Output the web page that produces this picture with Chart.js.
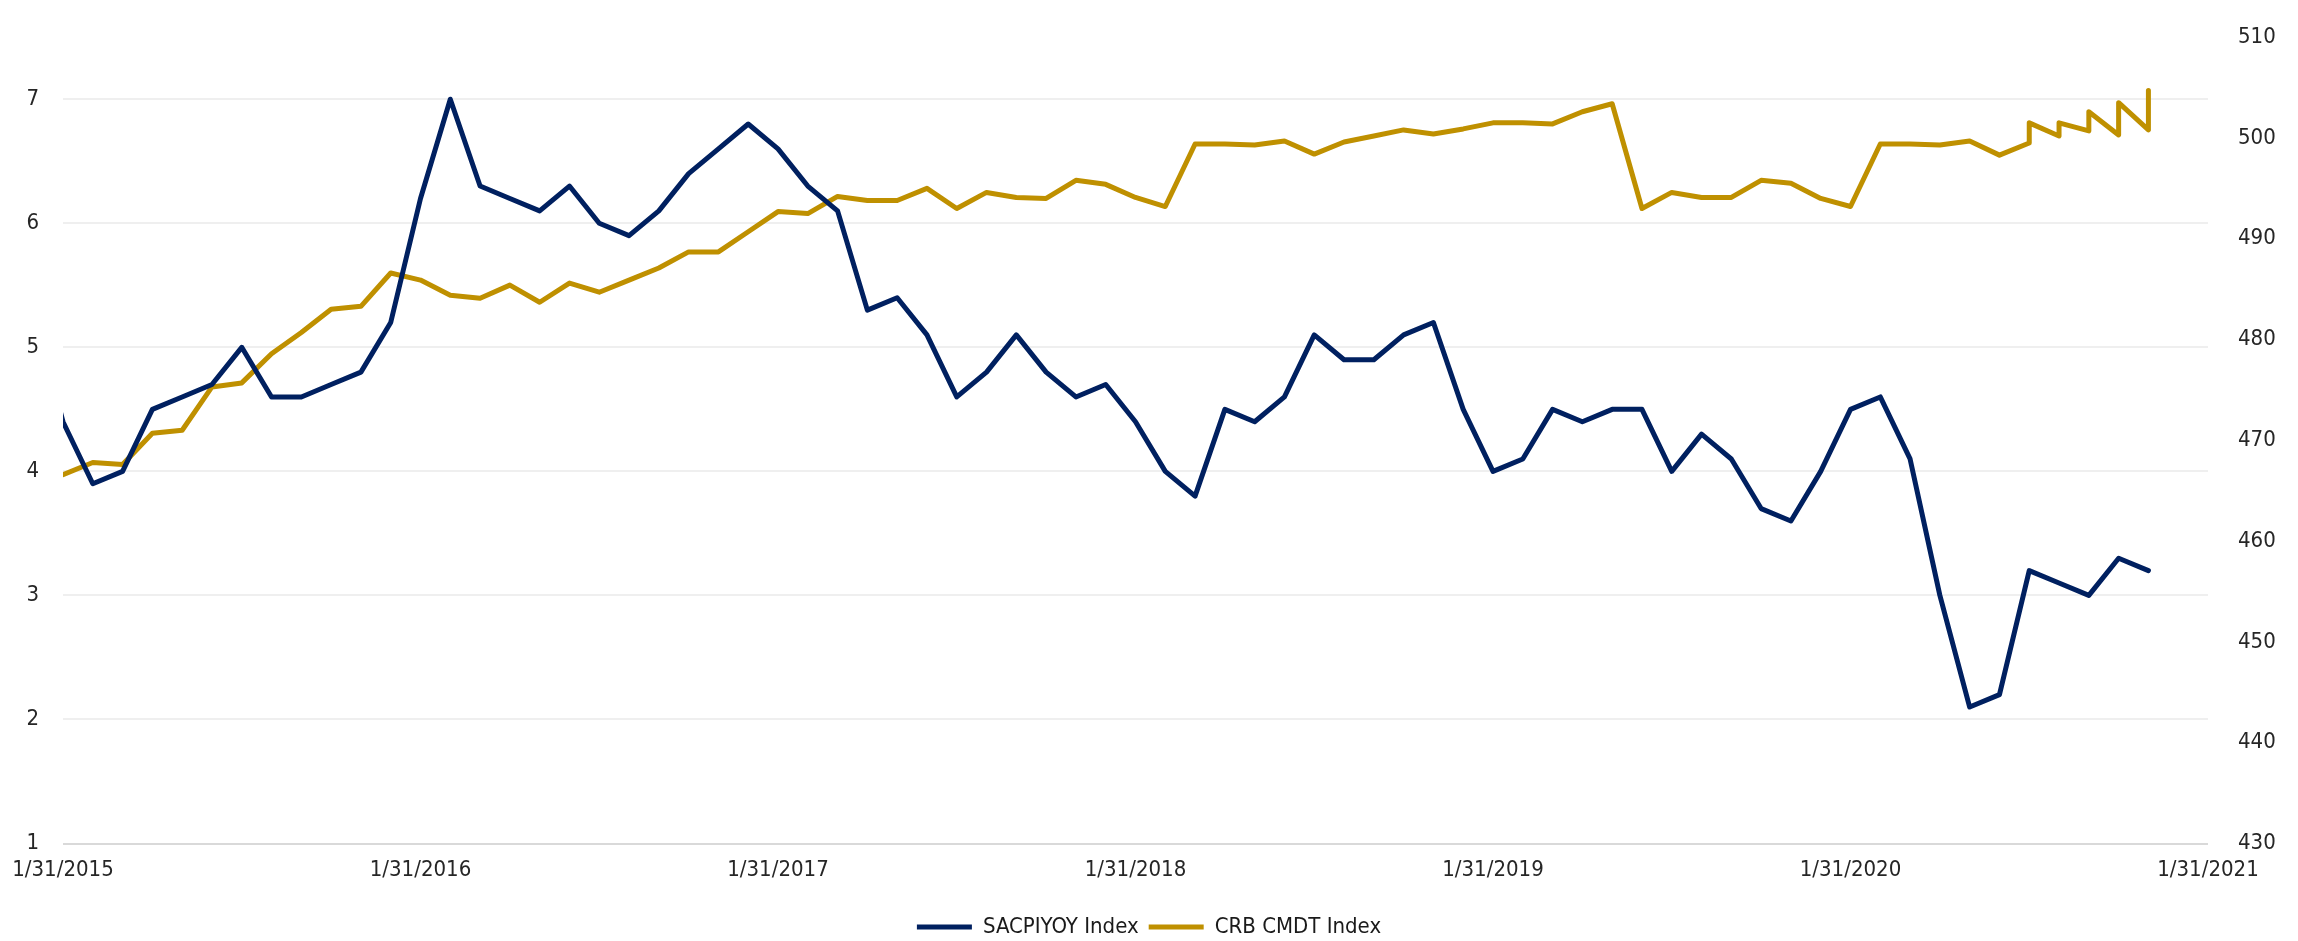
<!DOCTYPE html>
<html>
<head>
<meta charset="utf-8">
<title>SACPIYOY vs CRB CMDT</title>
<script src="https://cdn.jsdelivr.net/npm/chart.js@4.4.1/dist/chart.umd.min.js"></script>
<style>
    html, body { margin: 0; padding: 0; background: #ffffff; }
    #wrap { width: 2298px; height: 941px; position: relative; }
</style>
</head>
<body>
<div id="wrap"><canvas id="cpiChart"></canvas></div>
<script>
// month-end labels, 12/31/2014 .. 1/31/2021
function monthEndLabels(startYear, startMonth, count) {
    const labels = [];
    for (let i = 0; i < count; i++) {
        const m = (startMonth - 1 + i) % 12;
        const y = startYear + Math.floor((startMonth - 1 + i) / 12);
        const lastDay = new Date(y, m + 1, 0).getDate();
        labels.push((m + 1) + '/' + lastDay + '/' + y);
    }
    return labels;
}
const months = monthEndLabels(2014, 12, 74);

// SACPIYOY Index, 12/2014 .. 11/2020 (left axis)
const sacpiyoy = [
    5.3,
    4.4, 3.9, 4.0, 4.5, 4.6, 4.7, 5.0, 4.6, 4.6, 4.7, 4.8, 5.2,
    6.2, 7.0, 6.3, 6.2, 6.1, 6.3, 6.0, 5.9, 6.1, 6.4, 6.6, 6.8,
    6.6, 6.3, 6.1, 5.3, 5.4, 5.1, 4.6, 4.8, 5.1, 4.8, 4.6, 4.7,
    4.4, 4.0, 3.8, 4.5, 4.4, 4.6, 5.1, 4.9, 4.9, 5.1, 5.2, 4.5,
    4.0, 4.1, 4.5, 4.4, 4.5, 4.5, 4.0, 4.3, 4.1, 3.7, 3.6, 4.0,
    4.5, 4.6, 4.1, 3.0, 2.1, 2.2, 3.2, 3.1, 3.0, 3.3, 3.2
];

// CRB CMDT Index, monthly 12/2014 .. 7/2020 (right axis)
const crbMonthly = [
    465.3,
    466.6, 467.8, 467.6, 470.7, 471.0, 475.3, 475.7, 478.6, 480.7, 483.0, 483.3, 486.6,
    485.9, 484.4, 484.1, 485.4, 483.7, 485.6, 484.7, 485.9, 487.1, 488.7, 488.7, 490.7,
    492.7, 492.5, 494.2, 493.8, 493.8, 495.0, 493.0, 494.6, 494.1, 494.0, 495.8, 495.4,
    494.1, 493.2, 499.4, 499.4, 499.3, 499.7, 498.4, 499.6, 500.2, 500.8, 500.4, 500.9,
    501.5, 501.5, 501.4, 502.6, 503.4, 493.0, 494.6, 494.1, 494.1, 495.8, 495.5, 494.0,
    493.2, 499.4, 499.4, 499.3, 499.7, 498.3, 499.5
];
// extra observations at the end, two per month
const crbTailDates = ['7/31/2020', '8/31/2020', '8/31/2020', '9/30/2020', '9/30/2020',
                      '10/31/2020', '10/31/2020', '11/30/2020', '11/30/2020'];
const crbTailValues = [501.5, 500.2, 501.5, 500.7, 502.6, 500.3, 503.5, 500.8, 504.7];

const leftTicks = { min: 1, max: 7.5, step: 1 };
const rightTicks = { min: 430, max: 510, step: 10 };

const crbData = crbMonthly.map((v, i) => ({ x: months[i], y: v }))
    .concat(crbTailDates.map((d, i) => ({ x: d, y: crbTailValues[i] })));

const navy = '#002060';
const gold = '#BF9000';

Chart.defaults.font.family = "'DejaVu Sans Condensed', 'Liberation Sans Narrow', 'Liberation Sans', sans-serif";
Chart.defaults.color = '#262626';

const ctx = document.getElementById('cpiChart').getContext('2d');
new Chart(ctx, {
    type: 'line',
    data: {
        labels: months,
        datasets: [{
            label: 'SACPIYOY Index',
            data: sacpiyoy,
            yAxisID: 'y',
            borderColor: navy,
            backgroundColor: navy,
            borderWidth: 5,
            borderJoinStyle: 'round',
            borderCapStyle: 'round',
            pointRadius: 0,
            tension: 0,
            clip: 0
        }, {
            label: 'CRB CMDT Index',
            data: crbData,
            yAxisID: 'y1',
            borderColor: gold,
            backgroundColor: gold,
            borderWidth: 5,
            borderJoinStyle: 'round',
            borderCapStyle: 'round',
            pointRadius: 0,
            tension: 0,
            clip: 0
        }]
    },
    options: {
        responsive: true,
        maintainAspectRatio: false,
        animation: false,
        layout: { padding: { top: 18, bottom: -7, left: 0, right: 0 } },
        plugins: {
            tooltip: { enabled: false },
            legend: {
                position: 'bottom',
                labels: {
                    usePointStyle: true,
                    pointStyle: 'line',
                    pointStyleWidth: 55,
                    padding: 10,
                    color: '#1a1a1a',
                    font: { size: 22 }
                }
            }
        },
        scales: {
            x: {
                type: 'category',
                min: '1/31/2015',
                max: '1/31/2021',
                // invisible tick marks push the labels down without adding side padding
                grid: { display: true, drawOnChartArea: false, drawTicks: true, tickLength: 14, color: 'rgba(0,0,0,0)' },
                border: { display: false },
                ticks: {
                    autoSkip: false,
                    maxRotation: 0,
                    minRotation: 0,
                    padding: 0,
                    font: { size: 22 },
                    callback: function(value) {
                        const l = this.getLabelForValue(value);
                        return l.startsWith('1/') ? l : '';
                    }
                },
                afterFit: s => { s.height = 62.5; }
            },
            y: {
                position: 'left',
                min: leftTicks.min,
                max: leftTicks.max,
                border: { display: false },
                grid: {
                    drawTicks: false,
                    lineWidth: 2,
                    color: c => c.tick && c.tick.value === 1 ? '#d9d9d9' : '#efefef'
                },
                ticks: { stepSize: leftTicks.step, includeBounds: false, padding: 24, font: { size: 22 } },
                afterFit: s => { s.width = 63; }
            },
            y1: {
                position: 'right',
                min: rightTicks.min,
                max: rightTicks.max,
                border: { display: false },
                grid: { display: false },
                ticks: { stepSize: rightTicks.step, padding: 22, font: { size: 22 } },
                afterFit: s => { s.width = 90; }
            }
        }
    }
});
</script>
</body>
</html>
